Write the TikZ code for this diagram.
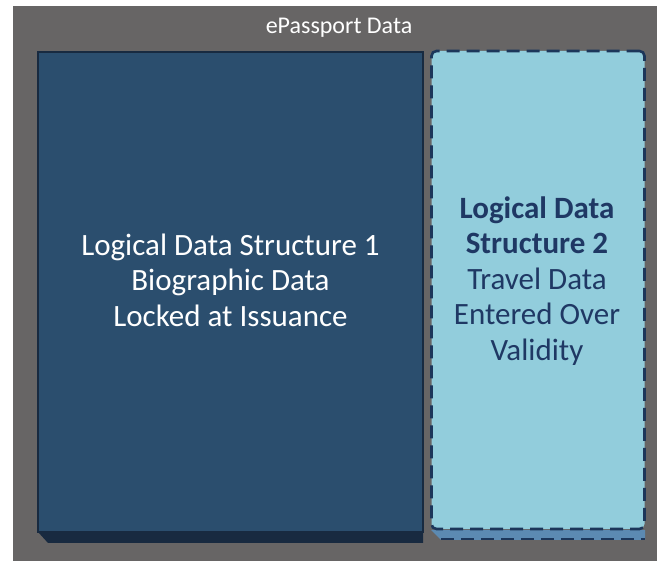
\documentclass[tikz,border=0pt]{standalone}
\usepackage{fontspec}
\setmainfont{Carlito}
\definecolor{framegray}{RGB}{103,101,101}
\definecolor{lsdark}{RGB}{43,78,110}
\definecolor{lsshade}{RGB}{24,42,64}
\definecolor{lslight}{RGB}{146,205,220}
\definecolor{lsedge}{RGB}{28,54,90}
\definecolor{lsmid}{RGB}{92,138,178}
\definecolor{lstext}{RGB}{31,56,100}

\begin{document}
\begin{tikzpicture}[
  x=1pt, y=1pt,
  frame/.style={fill=framegray,draw=none,anchor=south west,minimum width=644pt,minimum height=555pt,inner sep=0pt},
  lds/.style={draw=none,inner sep=0pt,minimum width=#1},
  ldsdark/.style={fill=lsdark,draw=lsshade,line width=1.5pt},
  ldslight/.style={fill=lslight,draw=lsedge,line width=2.6pt,dash pattern=on 13pt off 7pt,rounded corners=5pt},
  boxtext/.style={align=center,font=\fontsize{31}{35.5}\selectfont}
]
  \useasboundingbox (0,0) rectangle (657,561);
  \node[frame] (data) at (13,0) {};
  \node[text=white,font=\fontsize{24}{26}\selectfont] (title) at (339,533) {ePassport Data};
  % bottom bevels
  \fill[lsshade] (38,29) -- (423,29) -- (423,18) -- (48,18) -- cycle;
  \fill[lsmid] (431,31) -- (645,31) -- (645,21) -- (441,21) -- cycle;
  \draw[lsedge,line width=2.4pt,dash pattern=on 13pt off 7pt] (441,22) -- (645,22);
  % the two structures
  \node[lds=385pt,ldsdark,minimum height=480pt] (lds1) at (230.5,269) {};
  \node[lds=213pt,ldslight,minimum height=478pt] (lds2) at (538,271) {};
  \node[boxtext,text=white] (lds1text) at (230.5,281)
    {Logical Data Structure 1\\Biographic Data\\Locked at Issuance};
  \node[boxtext,text=lstext] (lds2text) at (537,280)
    {\textbf{Logical Data}\\\textbf{Structure 2}\\Travel Data\\Entered Over\\Validity};
\end{tikzpicture}
\end{document}
